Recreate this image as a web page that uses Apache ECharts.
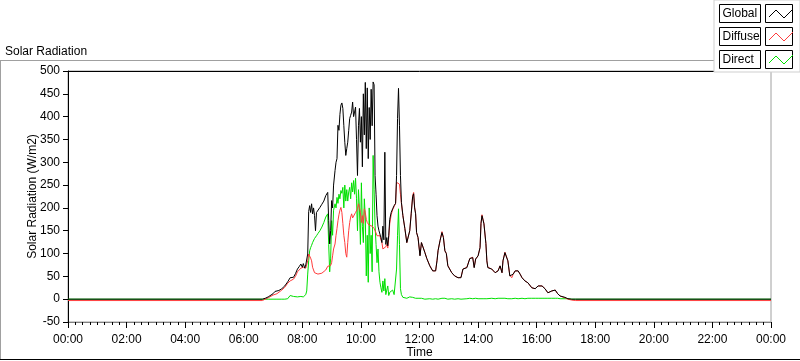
<!DOCTYPE html>
<html><head><meta charset="utf-8">
<script src="https://cdn.jsdelivr.net/npm/echarts@6/dist/echarts.min.js"></script>
<style>html,body{margin:0;padding:0;background:#fff}#c{width:800px;height:361px}</style>
</head><body><div id="c"></div>
<script>
// time of day in minutes
const times = [
0,398,404,410,414,420,424,428,432,438,
444,450,455,459,462,466,470,474,477,480,
482,485,487,489,491,493,495,497,499,501,
503,505,507,509,512,516,520,524,528,532,
534,536,538,540,542,544,547,549,551,553,
555,557,559,561,563,565,567,569,571,573,
575,577,579,581,583,585,587,589,591,593,
595,597,599,601,603,605,607,609,611,613,
615,617,619,621,623,625,627,629,631,633,
635,637,639,641,643,645,647,649,651,653,
655,657,659,662,665,668,671,673,675,677,
679,681,683,686,690,694,697,700,703,706,
708,710,712,714,717,721,724,727,731,735,
741,747,753,756,758,762,766,769,772,775,
778,786,792,799,805,809,817,823,829,832,
835,840,844,846,848,850,852,856,858,860,
868,875,881,885,889,891,895,898,901,905,
909,912,916,922,926,930,936,942,950,957,
963,971,977,983,991,998,1003,1008,1018,1024,
1032,1040,1440];
const globalVals = [
0,0,2,5,7,12,17,15,19,23,
29,38,47,45,48,56,66,72,77,70,
78,68,75,72,99,192,205,190,209,187,
200,183,150,190,194,201,208,215,227,234,
172,121,150,216,200,250,282,300,308,381,
370,405,425,430,418,380,344,315,330,344,
370,396,403,410,432,400,410,421,350,271,
380,418,344,400,290,450,360,475,330,463,
308,420,350,460,380,476,470,271,230,183,
160,150,146,135,124,160,130,322,120,135,
117,140,175,190,198,205,210,271,396,462,
381,271,212,183,155,124,122,150,187,225,
231,200,187,146,135,95,124,128,102,89,
73,62,62,85,106,128,146,135,106,100,
73,58,51,47,47,66,69,89,91,69,
88,95,113,166,183,187,165,122,84,69,
66,58,62,73,58,84,102,100,84,51,
47,55,62,62,55,47,40,36,25,23,
29,29,23,14,18,20,12,7,4,1,
0,0,0];
const diffuseVals = [
-3,-3,0,3,5,9,12,12,15,20,
26,35,40,42,44,50,60,64,68,66,
70,66,68,70,84,99,95,90,84,70,
64,58,56,55,55,55,57,60,64,72,
70,69,74,80,95,110,121,140,155,172,
185,195,201,190,166,140,124,100,92,124,
150,168,180,187,178,176,176,190,194,198,
209,201,190,168,183,166,198,190,175,168,
165,162,161,160,160,158,155,150,145,139,
138,140,139,130,124,110,106,110,115,120,
112,135,165,185,196,203,210,256,258,260,
252,230,210,183,155,124,122,150,187,227,
234,202,188,146,135,96,124,128,103,89,
74,62,62,86,107,128,148,136,106,100,
74,58,51,47,48,66,70,89,92,70,
88,95,113,167,185,189,166,122,84,70,
66,58,63,73,58,84,103,101,84,52,
47,55,62,62,55,47,40,36,25,23,
29,29,23,14,18,20,12,7,3,0,
-2,-3,-3];
const directVals = [
0,0,0,0,0,0,0,0,0,0,
0,1,8,10,6,3,5,4,6,3,
5,7,10,18,55,84,106,113,118,124,
127,133,136,139,144,150,158,168,180,187,
120,60,90,172,140,195,209,200,223,210,
230,220,238,232,245,200,250,215,240,215,
235,245,220,255,235,260,230,265,220,150,
240,200,120,255,160,124,220,180,51,140,
37,200,100,140,60,315,240,161,120,80,
110,60,37,25,15,40,18,45,10,20,
29,8,15,12,20,10,7,66,140,198,
120,23,10,4,3,2,3,5,7,4,
3,2,2,1,2,1,2,1,0,1,
1,0,1,1,0,1,2,1,2,1,
0,1,0,1,0,1,1,2,1,1,
2,1,2,1,2,1,1,2,1,1,
2,1,2,1,2,1,2,2,1,2,
1,2,2,1,2,2,1,2,2,2,
2,2,2,2,2,2,2,1,1,1,
0,0,0];
const xTickLabels = ['00:00','02:00','04:00','06:00','08:00','10:00','12:00','14:00','16:00','18:00','20:00','22:00','00:00'];
const seriesNames = ['Global','Diffuse','Direct'];
const seriesColors = ['#000000','#ff3c3c','#00e000'];

const FONT = 'Liberation Sans';
const chart = echarts.init(document.getElementById('c'), null, {renderer:'canvas'});
function pairs(v){ return times.map((t,i)=>[t, v[i]]); }
const valsByName = {Global: globalVals, Diffuse: diffuseVals, Direct: directVals};
const order = ['Direct','Diffuse','Global'];
const series = order.map((n)=>({
  name:n, type:'line', data:pairs(valsByName[n]), showSymbol:false, symbol:'none',
  color: seriesColors[seriesNames.indexOf(n)],
  lineStyle:{width:1, color: seriesColors[seriesNames.indexOf(n)]},
  z: 2 + seriesNames.length - seriesNames.indexOf(n),
  animation:false
}));
// legend swatch zigzags (decoration inside the legend icon boxes)
const zig = seriesNames.map((n,i)=>{
  const y0 = 4 + 23*i;
  return {type:'polyline', z:100, silent:true,
    shape:{points:[[769,y0+13],[776,y0+6],[784,y0+14],[793,y0+5]]},
    style:{stroke:seriesColors[i], lineWidth:1, fill:'none'}};
});
const option = {
  animation:false,
  title:{text:'Solar Radiation', left:5, top:46, padding:0, textStyle:{fontFamily:FONT, fontSize:12, fontWeight:'normal', color:'#000'}},
  grid:{left:68, right:29, top:71, bottom:39, show:true, borderColor:'#a0a0a0', borderWidth:1, backgroundColor:'#fff', outerBoundsMode:'none', containLabel:false},
  legend:{
    right:0, top:0, orient:'vertical', align:'right', padding:[2,5,1,5], itemGap:0,
    itemWidth:27, itemHeight:18, backgroundColor:'#fff', borderColor:'#cfcfcf', borderWidth:1,
    selectedMode:false, z:10,
    icon:'rect',
    formatter: n => '{a|' + n + '}',
    textStyle:{fontFamily:FONT, fontSize:12, color:'#000', borderColor:'#000', borderWidth:1, padding:[2,2,2,3],
      rich:{a:{width:36, height:14, lineHeight:14, align:'left', fontFamily:FONT, fontSize:12, color:'#000'}}},
    data: seriesNames.map((n)=>({name:n, itemStyle:{color:'none', borderColor:'#000', borderWidth:1}}))
  },
  xAxis:[{
    type:'value', min:0, max:1440, interval:120,
    name:'Time', nameLocation:'middle', nameGap:25, nameMoveOverlap:false,
    nameTextStyle:{fontFamily:FONT, fontSize:12, color:'#000'},
    axisLine:{show:true, onZero:false, lineStyle:{color:'#808080'}},
    axisTick:{show:true, length:6, lineStyle:{color:'#000'}},
    minorTick:{show:true, splitNumber:8, length:3, lineStyle:{color:'#000'}},
    axisLabel:{formatter: v => xTickLabels[Math.round(v/120)], margin:12, color:'#000', fontFamily:FONT, fontSize:12},
    splitLine:{show:false}, minorSplitLine:{show:false}
  },{
    type:'value', min:0, max:1440, position:'top',
    axisLine:{show:true, onZero:false, lineStyle:{color:'#000'}},
    axisTick:{show:false}, axisLabel:{show:false}, splitLine:{show:false}
  }],
  yAxis:{
    type:'value', min:-50, max:500, interval:50,
    name:'Solar Radiation (W/m2)', nameLocation:'middle', nameGap:29, nameMoveOverlap:false,
    nameTextStyle:{fontFamily:FONT, fontSize:12, color:'#000'},
    axisLine:{show:true, lineStyle:{color:'#000'}},
    axisTick:{show:true, length:5, lineStyle:{color:'#000'}},
    axisLabel:{margin:8, color:'#000', fontFamily:FONT, fontSize:12},
    splitLine:{show:false}
  },
  graphic:[
    {type:'line', z:-1, silent:true, shape:{x1:0,y1:60.5,x2:800,y2:60.5}, style:{stroke:'#a0a0a0', lineWidth:1}},
    {type:'line', z:-1, silent:true, shape:{x1:0.5,y1:60,x2:0.5,y2:360}, style:{stroke:'#a0a0a0', lineWidth:1}},
    {type:'line', z:-1, silent:true, shape:{x1:0,y1:359.5,x2:800,y2:359.5}, style:{stroke:'#000', lineWidth:1}}
  ].concat(zig),
  series: series
};
chart.setOption(option);
</script></body></html>
